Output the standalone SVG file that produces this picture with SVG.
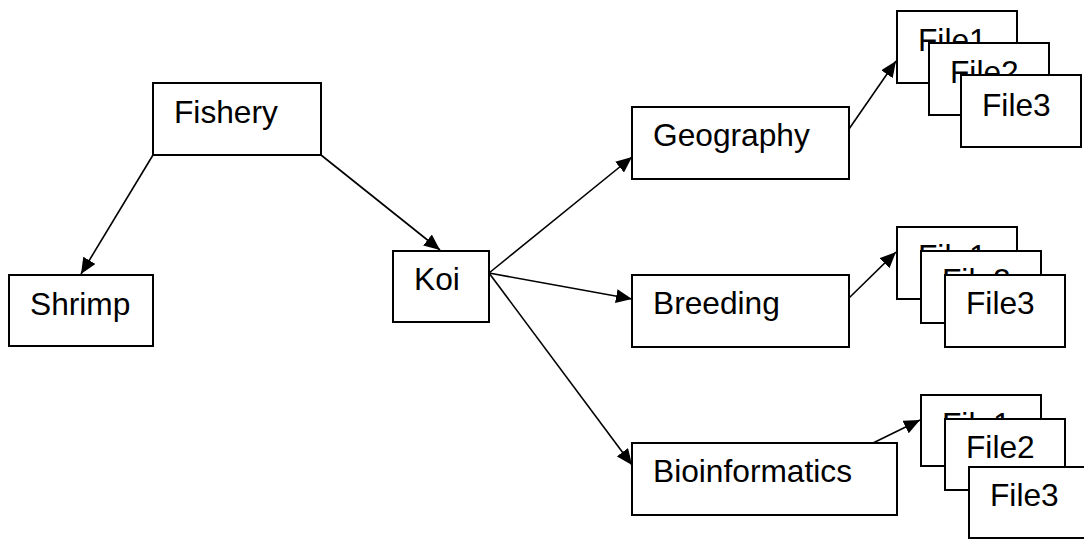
<svg xmlns="http://www.w3.org/2000/svg" width="1084" height="539" viewBox="0 0 1084 539">
<defs>
<style>
.box{fill:#fff;stroke:#000;stroke-width:2}
.t{font-family:"Liberation Sans",Arial,sans-serif;font-size:31.7px;fill:#000}
.c{stroke:#000;stroke-width:1.6;fill:none;marker-end:url(#ah)}
</style>
<marker id="ah" markerUnits="userSpaceOnUse" markerWidth="18" markerHeight="14" refX="16" refY="7" orient="auto">
<path d="M0,0 L16,7 L0,14 Z" fill="#000"/>
</marker>
</defs>
<rect width="1084" height="539" fill="#fff"/>
<g id="connectors">
<line class="c" x1="153" y1="155" x2="81" y2="274"/>
<line class="c" x1="321" y1="155" x2="440" y2="250"/>
<line class="c" x1="489" y1="273" x2="632" y2="157"/>
<line class="c" x1="489" y1="273" x2="632" y2="299"/>
<line class="c" x1="489" y1="273" x2="632" y2="465"/>
<line class="c" x1="849" y1="129" x2="896" y2="61"/>
<line class="c" x1="849" y1="298" x2="896" y2="252"/>
<line class="c" x1="873" y1="443" x2="920" y2="420"/>
</g>
<g id="fishery"><rect class="box" x="153" y="83" width="168" height="72"/><text class="t" x="174" y="123">Fishery</text></g>
<g id="shrimp"><rect class="box" x="9" y="275" width="144" height="71"/><text class="t" x="30" y="315">Shrimp</text></g>
<g id="koi"><rect class="box" x="393" y="251" width="96" height="71"/><text class="t" x="414" y="290">Koi</text></g>
<g id="geography"><rect class="box" x="632" y="107" width="217" height="72"/><text class="t" x="653" y="146">Geography</text></g>
<g id="breeding"><rect class="box" x="632" y="275" width="217" height="72"/><text class="t" x="653" y="314">Breeding</text></g>
<g id="bioinformatics"><rect class="box" x="632" y="443" width="265" height="72"/><text class="t" x="653" y="482">Bioinformatics</text></g>
<g id="geo-files">
<g id="geo-file1"><rect class="box" x="897" y="11" width="120" height="72"/><text class="t" x="918" y="51">File1</text></g>
<g id="geo-file2"><rect class="box" x="929" y="43" width="120" height="72"/><text class="t" x="950" y="83">File2</text></g>
<g id="geo-file3"><rect class="box" x="961" y="75" width="120" height="72"/><text class="t" x="982" y="116">File3</text></g>
</g>
<g id="breed-files">
<g id="breed-file1"><rect class="box" x="897" y="227" width="120" height="72"/><text class="t" x="918" y="267">File1</text></g>
<g id="breed-file2"><rect class="box" x="921" y="251" width="120" height="72"/><text class="t" x="942" y="291">File2</text></g>
<g id="breed-file3"><rect class="box" x="945" y="275" width="120" height="72"/><text class="t" x="966" y="314">File3</text></g>
</g>
<g id="bio-files">
<g id="bio-file1"><rect class="box" x="921" y="395" width="120" height="71"/><text class="t" x="942" y="435">File1</text></g>
<g id="bio-file2"><rect class="box" x="945" y="419" width="120" height="71"/><text class="t" x="966" y="458">File2</text></g>
<g id="bio-file3"><rect class="box" x="969" y="467" width="120" height="71"/><text class="t" x="990" y="506">File3</text></g>
</g>
</svg>
